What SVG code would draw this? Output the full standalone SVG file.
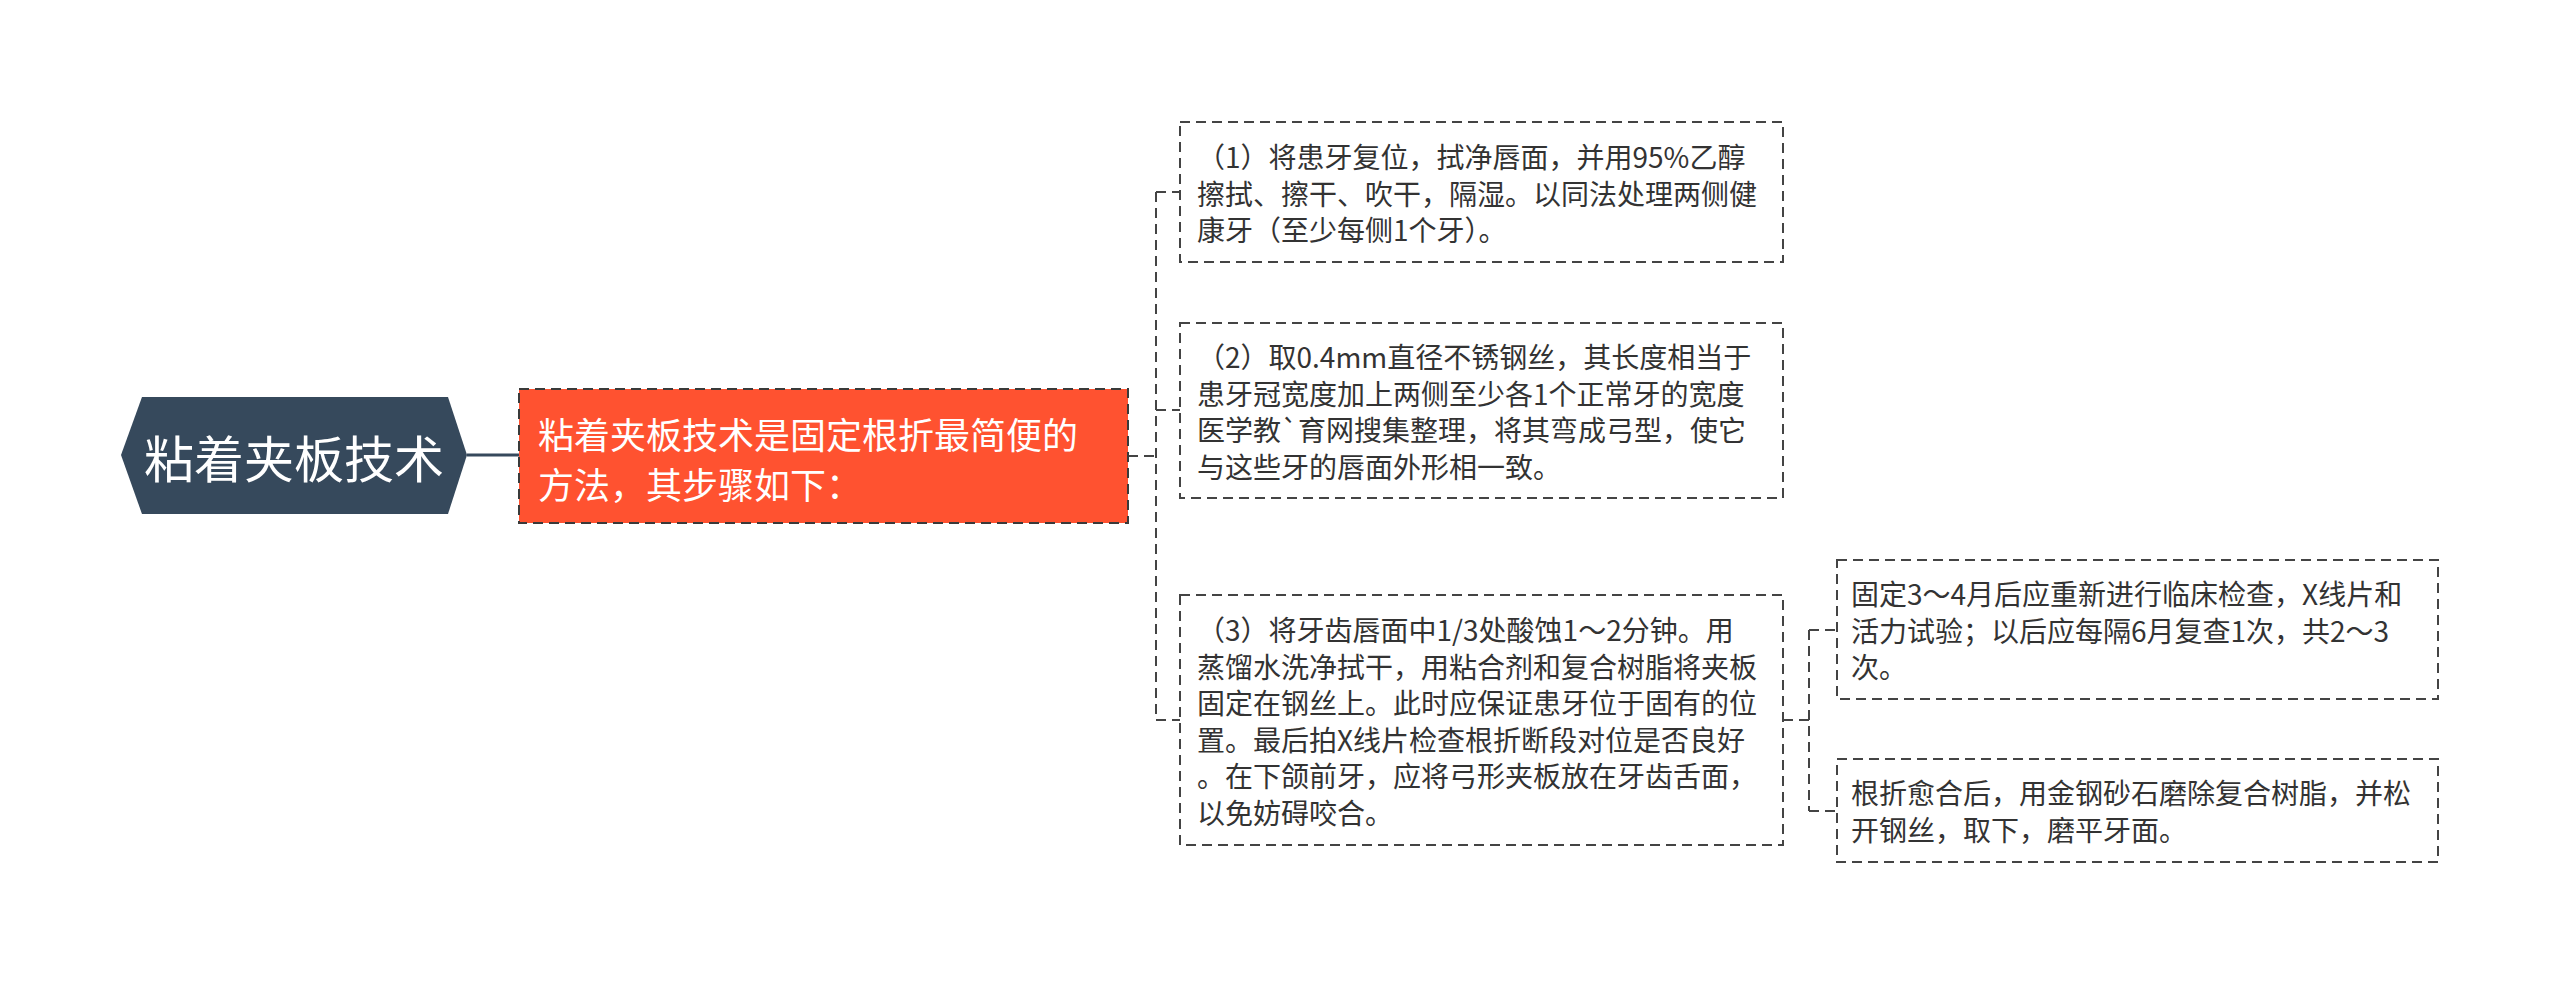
<svg xmlns="http://www.w3.org/2000/svg" width="2560" height="985" viewBox="0 0 2560 985">
<style>
.t{font-family:"Noto Sans CJK SC","Noto Sans",sans-serif;dominant-baseline:central;}
.c{font-size:28px;fill:#333333;}
.box{fill:#ffffff;stroke:#444444;stroke-width:2;stroke-dasharray:10 6;}
.conn{fill:none;stroke:#444444;stroke-width:2;stroke-dasharray:10 6;}
</style>
<rect width="2560" height="985" fill="#ffffff"/>
<g id="connectors">
<path d="M467,455 H519" fill="none" stroke="#36495C" stroke-width="3"/>
<path class="conn" d="M1128,456 H1156 M1156,192 V720 M1156,192 H1180 M1156,410 H1180 M1156,720 H1180"/>
<path class="conn" d="M1783,720 H1809 M1809,630 V811 M1809,630 H1837 M1809,811 H1837"/>
</g>
<g id="root">
<polygon points="121,455 142,397 448,397 467,455 448,514 142,514" fill="#36495C"/>
<text class="t" x="294" y="456" font-size="50" fill="#ffffff" text-anchor="middle">粘着夹板技术</text>
</g>
<g id="main">
<rect x="519" y="389" width="609" height="134" fill="#FF5230" stroke="#3a3a3a" stroke-width="2" stroke-dasharray="10 6"/>
<text class="t" font-size="36" fill="#ffffff"><tspan x="538" y="433">粘着夹板技术是固定根折最简便的</tspan><tspan x="538" y="483">方法，其步骤如下：</tspan></text>
</g>
<g id="step1">
<rect class="box" x="1180" y="122" width="603" height="140"/>
<text class="t c"><tspan x="1197" y="156">（1）将患牙复位，拭净唇面，并用95%乙醇</tspan><tspan x="1197" y="192.5">擦拭、擦干、吹干，隔湿。以同法处理两侧健</tspan><tspan x="1197" y="229">康牙（至少每侧1个牙）。</tspan></text>
</g>
<g id="step2">
<rect class="box" x="1180" y="323" width="603" height="175"/>
<text class="t c"><tspan x="1197" y="356">（2）取0.4mm直径不锈钢丝，其长度相当于</tspan><tspan x="1197" y="392.5">患牙冠宽度加上两侧至少各1个正常牙的宽度</tspan><tspan x="1197" y="429">医学教`育网搜集整理，将其弯成弓型，使它</tspan><tspan x="1197" y="465.5">与这些牙的唇面外形相一致。</tspan></text>
</g>
<g id="step3">
<rect class="box" x="1180" y="595" width="603" height="250"/>
<text class="t c"><tspan x="1197" y="629">（3）将牙齿唇面中1/3处酸蚀1～2分钟。用</tspan><tspan x="1197" y="665.5">蒸馏水洗净拭干，用粘合剂和复合树脂将夹板</tspan><tspan x="1197" y="702">固定在钢丝上。此时应保证患牙位于固有的位</tspan><tspan x="1197" y="738.5">置。最后拍X线片检查根折断段对位是否良好</tspan><tspan x="1197" y="775">。在下颌前牙，应将弓形夹板放在牙齿舌面，</tspan><tspan x="1197" y="811.5">以免妨碍咬合。</tspan></text>
</g>
<g id="followup">
<rect class="box" x="1837" y="560" width="601" height="139"/>
<text class="t c"><tspan x="1851" y="593">固定3～4月后应重新进行临床检查，X线片和</tspan><tspan x="1851" y="629.5">活力试验；以后应每隔6月复查1次，共2～3</tspan><tspan x="1851" y="666">次。</tspan></text>
</g>
<g id="removal">
<rect class="box" x="1837" y="759" width="601" height="103"/>
<text class="t c"><tspan x="1851" y="792">根折愈合后，用金钢砂石磨除复合树脂，并松</tspan><tspan x="1851" y="829">开钢丝，取下，磨平牙面。</tspan></text>
</g>
</svg>
